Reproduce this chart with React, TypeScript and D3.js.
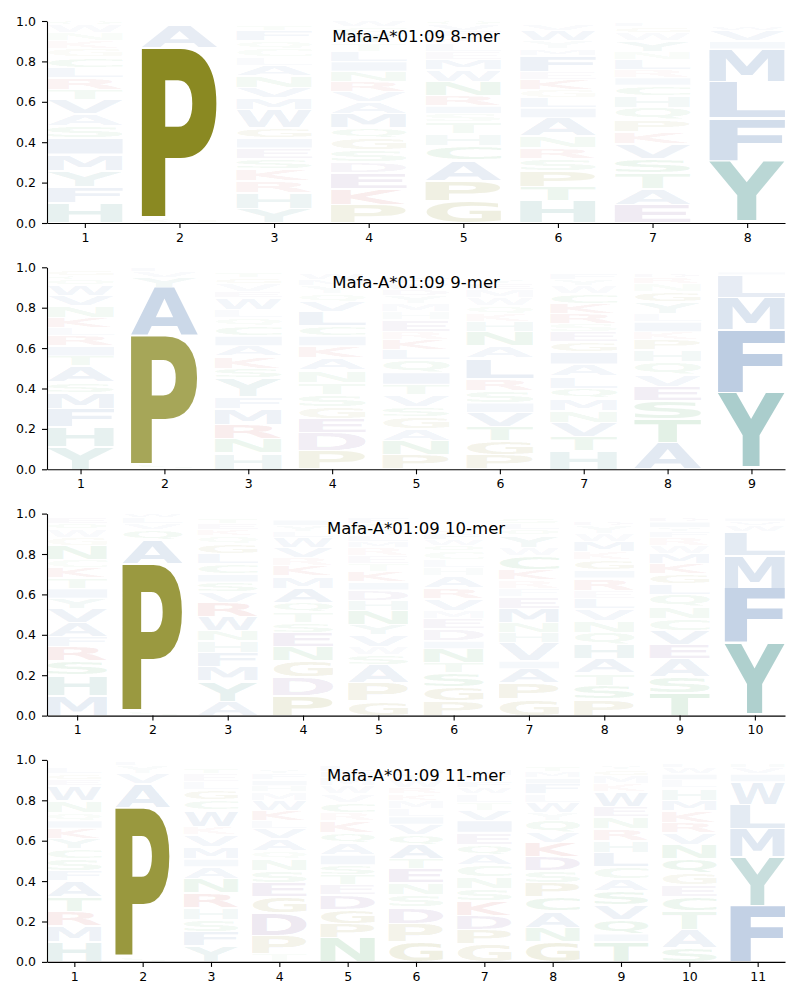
import React, { useEffect, useRef } from 'react';
import * as d3 from 'd3';

const titles = ['Mafa-A*01:09 8-mer', 'Mafa-A*01:09 9-mer', 'Mafa-A*01:09 10-mer', 'Mafa-A*01:09 11-mer'];
const yTicks = [0, 0.2, 0.4, 0.6, 0.8, 1.0];

// one string per position, letters listed bottom -> top as "<aa><probability>"
const mer8 = [
  'H.10 F.08 Y.08 M.08 I.08 S.06 A.06 V.07 T.05 R.06 L.05 C.05 G.04 K.04 N.04 W.04 Q.02',
  'G.02 P.845 A.11 V.015 L.01',
  'Y.07 H.08 R.06 K.06 S.05 E.05 I.05 G.05 W.09 M.06 V.05 N.06 A.05 L.04 C.04 Q.04 F.05 T.03',
  'P.09 K.08 E.08 D.05 S.06 G.06 Q.05 M.07 A.06 V.05 R.05 N.05 I.05 L.05 T.04 Y.05 C.03 W.03',
  'G.11 P.10 A.10 C.07 H.06 T.06 S.04 I.04 R.05 N.07 W.06 M.05 E.04 L.04 K.03 F.03 V.03 Q.02',
  'H.11 T.07 P.08 S.06 R.05 N.06 A.09 I.05 L.05 G.04 K.05 E.04 F.08 M.03 Y.04 W.05 V.03',
  'E.09 A.08 T.08 S.07 V.07 K.06 P.06 Q.06 H.06 C.05 I.04 R.04 L.05 N.04 Y.05 W.04 G.03 F.02',
  'A.01 Y.30 F.21 L.18 M.16 I.04 V.05 W.02 T.01',
];

const mer9 = [
  'Y.11 H.10 F.09 M.08 S.05 A.08 T.05 I.05 R.05 L.04 K.05 N.06 V.05 W.05 Q.03 C.02 G.03',
  'S.02 P.64 A.24 Y.05 V.03 L.02',
  'H.08 N.07 R.07 M.08 F.06 Y.09 S.05 K.06 A.05 I.05 C.05 Q.04 L.04 W.06 E.03 V.04 G.03 T.03',
  'P.09 D.09 E.07 G.06 S.06 T.06 N.06 A.06 K.06 I.05 C.05 L.07 V.05 Q.04 Y.04 M.03 W.03',
  'P.07 N.07 A.06 G.06 S.05 V.06 T.05 I.06 Q.06 L.05 K.05 R.04 E.06 H.04 M.04 Y.04 D.03 W.03 F.03',
  'P.07 G.07 T.07 V.07 I.05 S.06 R.06 L.10 A.06 N.07 H.05 K.04 Q.04 W.04 M.04 E.03 Y.02',
  'H.09 T.07 V.07 N.06 M.06 Q.05 L.06 A.06 I.06 G.05 E.05 S.04 R.05 K.05 C.05 W.04 Y.03 F.03',
  'A.13 T.12 S.09 E.07 V.06 Q.06 H.06 P.05 K.04 I.05 L.04 Y.06 G.05 N.04 R.03 D.02',
  'A.01 Y.37 F.31 M.16 L.11 I.02 V.01',
];

const mer10 = [
  'M.10 H.10 S.07 R.07 F.05 A.07 V.07 Y.05 I.05 T.05 K.05 C.04 N.07 G.04 W.04 Q.03 E.03',
  'S.02 P.73 A.12 Q.05 V.03 L.03 W.02',
  'A.07 Y.10 M.07 F.07 H.06 N.05 W.07 R.07 V.05 S.05 I.04 C.05 L.05 G.05 Q.04 K.03 E.03 T.03',
  'P.10 D.09 G.08 N.07 E.07 S.05 T.05 Q.05 A.07 M.06 K.05 R.04 V.05 W.05 L.03 Y.03 I.03',
  'G.07 P.09 A.09 S.05 W.04 V.06 Y.05 N.07 H.05 D.05 I.04 K.05 T.04 E.04 R.04 M.03 L.03 Q.02 C.04 F.03',
  'P.07 G.07 S.07 T.05 N.07 I.04 D.06 E.05 M.04 V.06 R.05 A.06 H.04 L.04 C.04 Q.03 W.03 F.03 K.02',
  'G.08 P.08 A.07 I.04 V.09 H.05 N.05 M.07 E.06 F.04 R.04 K.05 C.07 W.04 Y.06 Q.03 L.03 S.03',
  'P.08 S.07 T.06 A.07 H.07 Q.06 N.06 V.06 L.05 E.04 R.06 I.04 G.05 K.04 M.05 W.04 Y.04 D.02',
  'T.11 S.08 A.09 E.07 V.07 C.06 N.06 Q.06 L.05 G.05 K.05 M.05 W.04 R.04 F.03 Y.02 I.03 D.02',
  'A.01 Y.35 F.27 M.16 L.12 W.03 V.02 I.02',
];

const mer11 = [
  'H.10 M.08 R.07 T.07 A.08 F.05 S.06 C.05 Y.05 K.05 I.04 Q.04 N.06 W.07 E.03 G.03 L.03',
  'S.02 P.74 A.12 V.05 Y.04 L.02',
  'Y.08 F.07 S.06 H.06 R.07 N.07 A.06 I.04 M.06 V.06 K.04 W.08 C.05 G.05 L.04 E.04 T.03',
  'T.04 P.09 D.11 G.08 E.07 S.06 N.06 Q.04 A.06 V.05 L.04 K.05 W.05 M.04 H.03 I.03 F.03 Y.02',
  'N.12 P.07 G.07 D.07 E.05 T.05 S.05 I.05 A.06 Q.05 K.06 R.04 C.05 V.04 W.04 M.04 F.03 L.03',
  'G.10 P.09 D.08 S.06 N.06 E.07 T.05 A.07 Q.05 V.05 I.04 L.04 M.04 K.03 R.03 W.04 Y.03 H.02',
  'G.09 P.07 D.07 K.07 S.06 N.06 C.06 A.05 Q.05 E.06 I.06 V.05 T.04 L.04 W.03 F.03 Y.03 M.03',
  'G.10 N.07 A.08 C.07 P.07 S.06 D.07 K.07 V.05 Q.06 Y.04 W.05 L.04 F.05 I.03 M.03 T.03',
  'T.10 I.04 Q.07 V.07 S.07 A.06 C.06 L.07 H.06 R.06 N.06 E.05 W.07 K.04 M.04 G.03 Y.02',
  'S.07 A.09 T.09 C.07 E.06 G.06 Q.07 N.07 V.06 R.05 K.06 M.05 H.06 L.04 I.03 W.03 F.02',
  'F.28 Y.24 M.14 L.12 W.11 I.04 V.03 H.02',
];

const panels = [mer8, mer9, mer10, mer11];

const groups: [string, string][] = [
  ['PG', '#8a8922'],
  ['YH', '#408f8b'],
  ['AFMLWVI', '#4d78b1'],
  ['KR', '#c84646'],
  ['DE', '#7a5096'],
  ['STNQC', '#44a058'],
];
const colorOf = (aa: string) => (groups.find(g => g[0].includes(aa)) || ['', '#888'])[1];
// weak residues fade out, the dominant ones stay solid
const alphaOf = (h: number) => Math.min(1, 0.01 + 1.17 * h);

const parse = (col: string) => col.split(' ').map(t => ({ aa: t[0], h: +t.slice(1) }));

const W = 800, H = 1000;
const left = 47, right = 785;
const panelTop = 21, panelStep = 246.3, panelH = 202;
const FONT = "'DejaVu Sans', sans-serif";

export default function App() {
  const ref = useRef<SVGSVGElement>(null);

  useEffect(() => {
    const svg = d3.select(ref.current);
    svg.selectAll('*').remove();

    // tight glyph bounds, so each letter can be stretched to fill its box
    const ctx = document.createElement('canvas').getContext('2d')!;
    ctx.font = `bold 100px ${FONT}`;
    const cache = new Map<string, { l: number; r: number; a: number; d: number }>();
    const glyph = (ch: string) => {
      if (!cache.has(ch)) {
        const m = ctx.measureText(ch);
        cache.set(ch, {
          l: m.actualBoundingBoxLeft,
          r: m.actualBoundingBoxRight,
          a: m.actualBoundingBoxAscent,
          d: m.actualBoundingBoxDescent,
        });
      }
      return cache.get(ch)!;
    };

    panels.forEach((cols, pi) => {
      const n = cols.length;
      const top = panelTop + pi * panelStep;
      const bottom = top + panelH;
      const x = d3.scaleLinear().domain([0.6, n + 0.4]).range([left, right]);
      const y = d3.scaleLinear().domain([0, 1]).range([bottom, top]);
      const g = svg.append('g');

      cols.forEach((col, ci) => {
        const pos = ci + 1;
        const x0 = x(pos - 0.4), x1 = x(pos + 0.4);
        let cum = 0;
        parse(col).forEach(({ aa, h }) => {
          const yt = y(cum + h) + 0.8;
          const yb = y(cum) - 0.8;
          cum += h;
          if (yb - yt < 0.6) return;
          const m = glyph(aa);
          const sx = (x1 - x0) / (m.l + m.r);
          const sy = (yb - yt) / (m.a + m.d);
          g.append('text')
            .attr('transform', `translate(${x0 + m.l * sx},${yb - m.d * sy}) scale(${sx},${sy})`)
            .attr('font-family', FONT)
            .attr('font-weight', 'bold')
            .attr('font-size', 100)
            .attr('fill', colorOf(aa))
            .attr('fill-opacity', alphaOf(h))
            .text(aa);
        });
      });

      g.append('text')
        .attr('x', (left + right) / 2)
        .attr('y', top + 20.7)
        .attr('text-anchor', 'middle')
        .attr('font-family', FONT)
        .attr('font-size', 16.5)
        .attr('fill', '#000')
        .text(titles[pi]);

      const yAxis = g.append('g')
        .attr('transform', `translate(${left},0)`)
        .call(d3.axisLeft(y).tickValues(yTicks).tickFormat(d3.format('.1f')).tickSize(5).tickPadding(6).tickSizeOuter(0));
      const xAxis = g.append('g')
        .attr('transform', `translate(0,${bottom})`)
        .call(d3.axisBottom(x).tickValues(d3.range(1, n + 1)).tickFormat(d3.format('d')).tickSize(5).tickPadding(5).tickSizeOuter(0));
      [yAxis, xAxis].forEach(a => {
        a.selectAll('text').attr('font-family', FONT).attr('font-size', 12.5).attr('fill', '#000');
        a.selectAll('line, path').attr('stroke', '#000').attr('stroke-width', 1.1);
      });
    });
  }, []);

  return (
    <svg
      ref={ref}
      width={W}
      height={H}
      style={{ position: 'absolute', left: 0, top: 0, background: '#fff' }}
    />
  );
}
